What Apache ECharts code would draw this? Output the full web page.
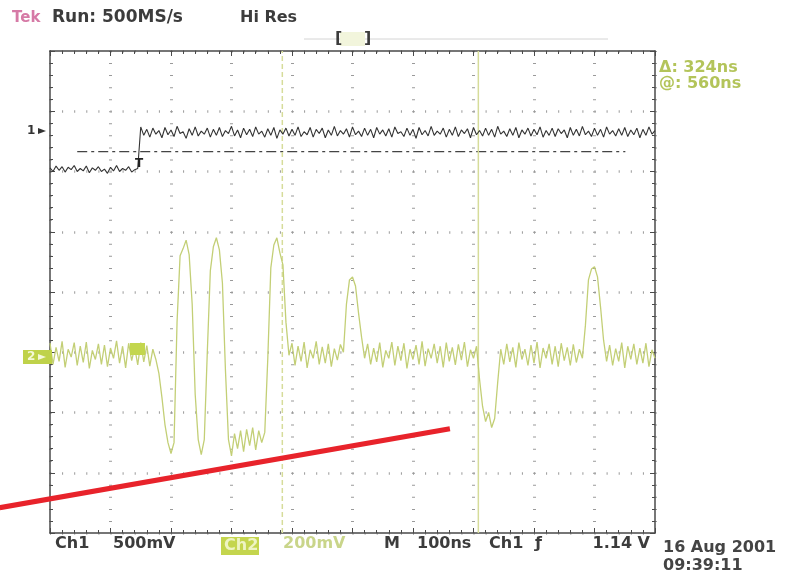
<!DOCTYPE html>
<html lang="en">
<head>
  <meta charset="UTF-8">
  <title>Tek scope capture</title>
  <script src="https://cdn.jsdelivr.net/npm/echarts@6/dist/echarts.min.js"></script>
  <style>
    body { margin: 0; padding: 0; background: #fff; }
  </style>
</head>
<body>
  <div id="chart" style="width: 803px; height: 583px;"></div>
  <script>
    // 100 ns/div, 10 div across, time relative to screen centre
    var startNs = -500;
    var stepNs = 5;

    // ch1 (screen divisions), one sample every 5 ns
    var ch1Div = [
      2.06, 2.0, 2.09, 2.02, 2.08, 1.99, 2.07, 2.03, 2.1, 2.0,
      2.05, 2.01, 2.09, 1.98, 2.06, 2.02, 2.08, 2.0, 2.04, 1.97,
      2.07, 2.01, 2.1, 2.0, 2.05, 2.02, 2.08, 1.99, 2.03, 2.05,
      2.74, 2.6, 2.7, 2.57, 2.72, 2.62, 2.68, 2.56, 2.73, 2.61,
      2.69, 2.58, 2.75, 2.63, 2.66, 2.55, 2.71, 2.6, 2.74, 2.59,
      2.67, 2.62, 2.72, 2.57, 2.7, 2.6, 2.73, 2.58, 2.68, 2.63,
      2.75, 2.59, 2.69, 2.56, 2.72, 2.61, 2.7, 2.58, 2.74, 2.62,
      2.67, 2.57, 2.71, 2.6, 2.73, 2.55, 2.69, 2.62, 2.72, 2.59,
      2.7, 2.6, 2.74, 2.58, 2.66, 2.61, 2.73, 2.57, 2.7, 2.63,
      2.72, 2.56, 2.69, 2.6, 2.75, 2.59, 2.68, 2.62, 2.71, 2.57,
      2.74, 2.61, 2.67, 2.58, 2.72, 2.6, 2.7, 2.56, 2.73, 2.62,
      2.69, 2.59, 2.71, 2.57, 2.74, 2.63, 2.66, 2.58, 2.72, 2.6,
      2.7, 2.55, 2.73, 2.61, 2.68, 2.59, 2.75, 2.6, 2.67, 2.62,
      2.72, 2.57, 2.7, 2.6, 2.74, 2.58, 2.69, 2.63, 2.71, 2.56,
      2.73, 2.61, 2.68, 2.59, 2.72, 2.6, 2.7, 2.57, 2.75, 2.62,
      2.67, 2.58, 2.71, 2.6, 2.73, 2.56, 2.69, 2.62, 2.72, 2.59,
      2.7, 2.61, 2.74, 2.57, 2.68, 2.6, 2.72, 2.58, 2.71, 2.63,
      2.69, 2.56, 2.73, 2.6, 2.7, 2.59, 2.75, 2.61, 2.67, 2.58,
      2.72, 2.6, 2.7, 2.57, 2.74, 2.62, 2.68, 2.59, 2.71, 2.6,
      2.73, 2.58, 2.69, 2.61, 2.72, 2.56, 2.7, 2.6, 2.74, 2.62, 2.68
    ];

    // ch2 (screen divisions), same sample clock
    var ch2Div = [
      -0.85, -1.2, -0.92, -1.15, -0.82, -1.25, -0.95, -1.08, -0.84, -1.22,
      -0.9, -1.17, -0.83, -1.27, -0.97, -1.12, -0.86, -1.2, -0.88, -1.24,
      -0.93, -1.1, -0.81, -1.18, -0.9, -1.26, -0.85, -1.14, -0.92, -1.21,
      -0.84, -1.16, -0.89, -1.23, -0.95, -1.12,
      -1.35, -1.75, -2.2, -2.5, -2.68, -2.5,
      -0.5, 0.6, 0.72, 0.86, 0.62,
      -0.2, -1.7, -2.45, -2.7, -2.45,
      -1.0, 0.35, 0.75, 0.9, 0.7,
      0.15, -1.3, -2.45, -2.72, -2.35,
      -2.6, -2.3, -2.65, -2.28, -2.55, -2.25, -2.62, -2.3, -2.5, -2.33,
      -1.1, 0.4, 0.78, 0.9, 0.65, 0.45, -0.5, -1.05,
      -0.85, -1.22, -0.9, -1.15, -0.83, -1.26, -0.96, -1.1, -0.82, -1.2,
      -0.91, -1.18, -0.86, -1.24, -0.94, -1.13, -0.87,
      -1.0, -0.2, 0.2, 0.25, 0.1, -0.35, -0.75, -1.1,
      -0.86, -1.2, -0.93, -1.16, -0.84, -1.25, -0.97, -1.1, -0.83, -1.22,
      -0.9, -1.14, -0.85, -1.27, -0.95, -1.12, -0.88, -1.2, -0.82, -1.23,
      -0.94, -1.1, -0.86, -1.18, -0.9, -1.25, -0.84, -1.15, -0.92, -1.21,
      -0.87, -1.13, -0.83, -1.24, -0.96, -1.1, -0.9,
      -1.45, -1.9, -2.15, -2.0, -2.25, -2.1, -1.5, -0.95,
      -1.2, -0.86, -1.16, -0.92, -1.25, -0.84, -1.12, -0.95, -1.22, -0.88,
      -1.18, -0.83, -1.26, -0.93, -1.1, -0.86, -1.2, -0.9, -1.24, -0.85,
      -1.14, -0.92, -1.22, -0.87, -1.17, -0.95, -1.1,
      -0.55, 0.2, 0.38, 0.42, 0.25, -0.25, -0.8, -1.15,
      -0.88, -1.22, -0.94, -1.15, -0.84, -1.26, -0.9, -1.12, -0.86, -1.2,
      -0.93, -1.18, -0.85, -1.24, -0.96, -1.1
    ];

    var triggerNs = -352;
    var trigLevelDiv = 2.33;
    var trigLineNs = [-455, 451];
    var cursorANs = -116;
    var cursorBNs = 208;
    // red pen stroke drawn over the capture (same ns / div units)
    var redStroke = [[-583, -3.58], [161, -2.27]];
    // what the whole 803x583 canvas spans in those units
    var canvasNs = [-582.6, 744.6];
    var canvasDiv = [-4.83, 4.846];

    var frameColor = '#4a4a4a';
    var traceGreen = '#c3cf76';
    var labelGreen = '#b3c45a';
    var font = '"DejaVu Sans"';

    function toPairs(vals) {
      return vals.map(function (v, i) { return [startNs + i * stepNs, v]; });
    }

    function frameAxis(pos, isX) {
      return {
        type: 'value',
        min: isX ? -500 : -4,
        max: isX ? 500 : 4,
        interval: isX ? 100 : 1,
        position: pos,
        axisLine: { show: true, onZero: false, lineStyle: { color: frameColor, width: 1.5 } },
        axisTick: { show: true, inside: true, length: 5, lineStyle: { color: frameColor } },
        minorTick: { show: true, splitNumber: 5, length: 3, lineStyle: { color: frameColor } },
        axisLabel: { show: false },
        splitLine: { show: false }
      };
    }

    var xBottom = frameAxis('bottom', true);
    xBottom.splitLine = { show: true, lineStyle: { color: '#9a9a9a', width: 3, type: [1, 11.05] } };
    var yLeft = frameAxis('left', false);
    yLeft.splitLine = { show: true, lineStyle: { color: '#9a9a9a', width: 2.5, type: [1, 11.1] } };

    function hiddenAxis(range) {
      return {
        type: 'value', gridIndex: 1, min: range[0], max: range[1], show: false,
        axisLine: { onZero: false }, splitLine: { show: false }
      };
    }

    var chart = echarts.init(document.getElementById('chart'));

    function txt(s, x, y, color, f, align) {
      return {
        type: 'text', z: 20,
        style: { text: s, x: x, y: y, fill: color, font: f, align: align || 'left', verticalAlign: 'middle' }
      };
    }

    var bold16 = 'bold 16px ' + font;

    var option = {
      animation: false,
      backgroundColor: '#ffffff',
      grid: [
        { left: 50, top: 51, width: 605, height: 482 },
        { left: 0, top: 0, width: 803, height: 583 }
      ],
      xAxis: [xBottom, frameAxis('top', true), hiddenAxis(canvasNs)],
      yAxis: [yLeft, frameAxis('right', false), hiddenAxis(canvasDiv)],
      series: [
        {
          name: 'Ch2', type: 'line', showSymbol: false, z: 3,
          data: toPairs(ch2Div),
          lineStyle: { color: traceGreen, width: 1.3 }
        },
        {
          name: 'Ch1', type: 'line', showSymbol: false, z: 4,
          data: toPairs(ch1Div),
          lineStyle: { color: '#333333', width: 1.1 }
        },
        {
          name: 'trigger level', type: 'line', showSymbol: false, z: 2,
          data: [[trigLineNs[0], trigLevelDiv], [trigLineNs[1], trigLevelDiv]],
          lineStyle: { color: '#444444', width: 1.2, type: [10, 4, 3, 4] }
        },
        {
          name: 'cursor A', type: 'line', showSymbol: false, z: 2,
          data: [[cursorANs, -4], [cursorANs, 4]],
          lineStyle: { color: '#d6dc9a', width: 1.5, type: [5, 3] }
        },
        {
          name: 'cursor B', type: 'line', showSymbol: false, z: 2,
          data: [[cursorBNs, -4], [cursorBNs, 4]],
          lineStyle: { color: '#d6dc9a', width: 1.5 }
        },
        {
          name: 'pen', type: 'line', showSymbol: false, z: 10,
          xAxisIndex: 2, yAxisIndex: 2,
          data: redStroke,
          lineStyle: { color: '#e8232b', width: 5 }
        }
      ],
      graphic: [
        // header
        txt('Tek', 12, 18, '#d67aa6', 'bold 15px ' + font),
        txt('Run: 500MS/s', 52, 18, '#3c3c3c', 'bold 17px ' + font),
        txt('Hi Res', 240, 18, '#3c3c3c', bold16),
        // record view bar
        { type: 'line', z: 5, shape: { x1: 304, y1: 39, x2: 608, y2: 39 }, style: { stroke: '#d4d4d4', lineWidth: 1 } },
        { type: 'rect', z: 5, shape: { x: 340, y: 32, width: 25, height: 14 }, style: { fill: '#f2f5dc' } },
        txt('[', 335, 39, '#3c3c3c', bold16),
        txt(']', 364, 39, '#3c3c3c', bold16),
        // cursor readouts
        txt('\u0394: ' + (cursorBNs - cursorANs) + 'ns', 659, 68, labelGreen, bold16),
        txt('@: ' + (cursorBNs - triggerNs) + 'ns', 659, 84, labelGreen, bold16),
        // channel ground markers
        txt('1', 27, 131, '#333333', 'bold 12px ' + font),
        { type: 'polygon', z: 20, shape: { points: [[38, 128], [46, 131], [38, 134]] }, style: { fill: '#333333' } },
        { type: 'rect', z: 20, shape: { x: 23, y: 350, width: 29, height: 14 }, style: { fill: '#bfd24a' } },
        txt('2', 27, 357, '#f4f8d8', 'bold 12px ' + font),
        { type: 'polygon', z: 21, shape: { points: [[38, 354], [46, 357], [38, 360]] }, style: { fill: '#f4f8d8' } },
        { type: 'rect', z: 20, shape: { x: 130, y: 343, width: 15, height: 12 }, style: { fill: '#c3d64e' } },
        txt('T', 139, 164, '#222222', 'bold 12px ' + font, 'center'),
        // bottom readout
        txt('Ch1', 55, 544, '#3c3c3c', bold16),
        txt('500mV', 113, 544, '#3c3c3c', bold16),
        { type: 'rect', z: 19, shape: { x: 221, y: 537, width: 38, height: 18 }, style: { fill: '#c4d54e' } },
        txt('Ch2', 224, 546, '#eef4c4', bold16),
        txt('200mV', 283, 544, '#c9d58a', bold16),
        txt('M', 384, 544, '#3c3c3c', bold16),
        txt('100ns', 417, 544, '#3c3c3c', bold16),
        txt('Ch1', 489, 544, '#3c3c3c', bold16),
        txt('\u0192', 535, 544, '#3c3c3c', bold16),
        txt('1.14 V', 650, 544, '#3c3c3c', bold16, 'right'),
        txt('16 Aug 2001', 663, 548, '#444444', bold16),
        txt('09:39:11', 663, 566, '#444444', bold16)
      ]
    };

    chart.setOption(option);
  </script>
</body>
</html>
